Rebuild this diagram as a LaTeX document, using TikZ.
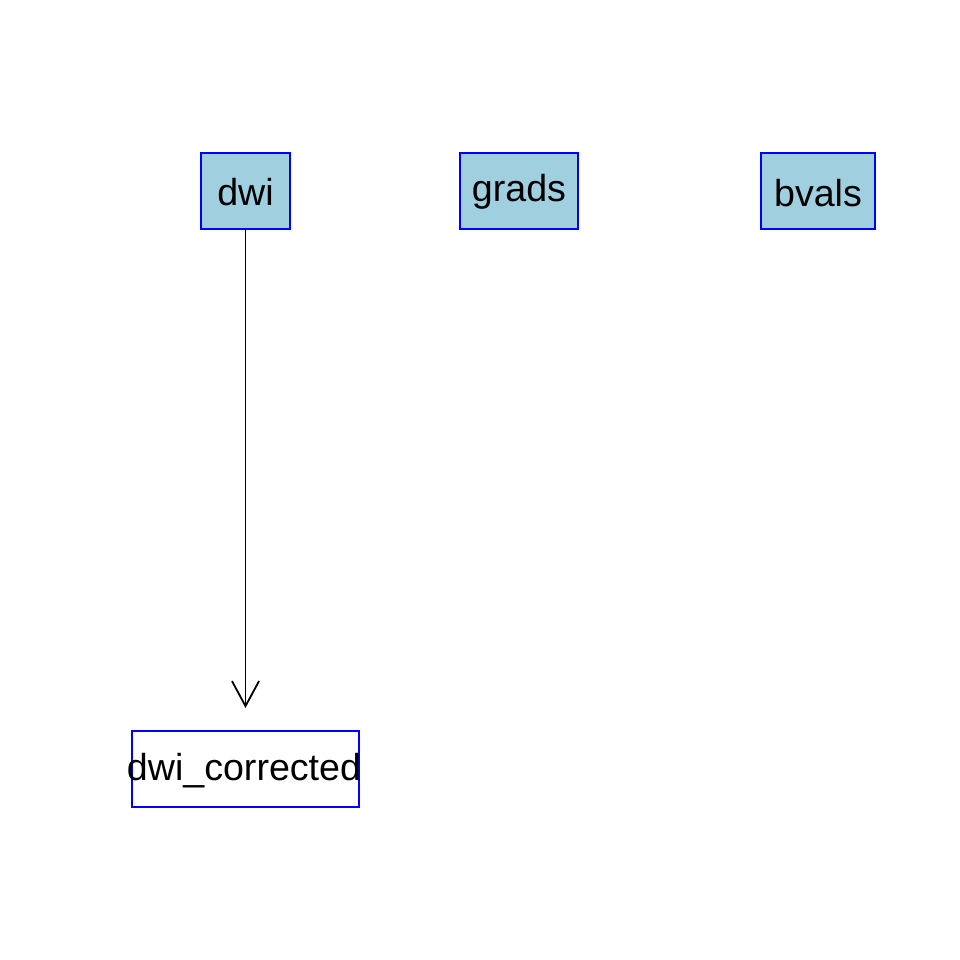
\documentclass[tikz,border=0pt]{standalone}
\usepackage{fontspec}
\setmainfont{Liberation Sans}
\usetikzlibrary{arrows.meta}
\definecolor{boxfill}{RGB}{160,207,224}
\definecolor{boxline}{RGB}{0,0,255}
\begin{document}
\begin{tikzpicture}[x=1pt,y=-1pt,
  box/.style={draw=boxline,line width=1.8pt,inner sep=0pt,outer sep=0pt,anchor=center},
  inbox/.style={box,fill=boxfill},
  outbox/.style={box,fill=white},
  lbl/.style={anchor=base,inner sep=0pt,font=\fontsize{37.6pt}{40pt}\selectfont},
  conn/.style={line width=1.8pt,-{Straight Barb[length=25pt,width=27pt,line width=1.8pt]}}]
\useasboundingbox (0,0) rectangle (960,960);
\node[inbox,minimum width=89pt,minimum height=76pt] (dwi) at (245.5,191) {};
\node[lbl] (dwit) at (245.5,205) {dwi};
\node[inbox,minimum width=118pt,minimum height=76pt] (grads) at (519,191) {};
\node[lbl] (gradst) at (519,201) {grads};
\node[inbox,minimum width=114pt,minimum height=76pt] (bvals) at (818,191) {};
\node[lbl] (bvalst) at (818,206) {bvals};
\node[outbox,minimum width=227pt,minimum height=76pt] (dwic) at (245.5,769) {};
\node[lbl] (dwict) at (244,780) {dwi\_corrected};
\coordinate (tip) at (245.5,708);
\draw[conn] (dwi.south) -- (tip);
\end{tikzpicture}
\end{document}
